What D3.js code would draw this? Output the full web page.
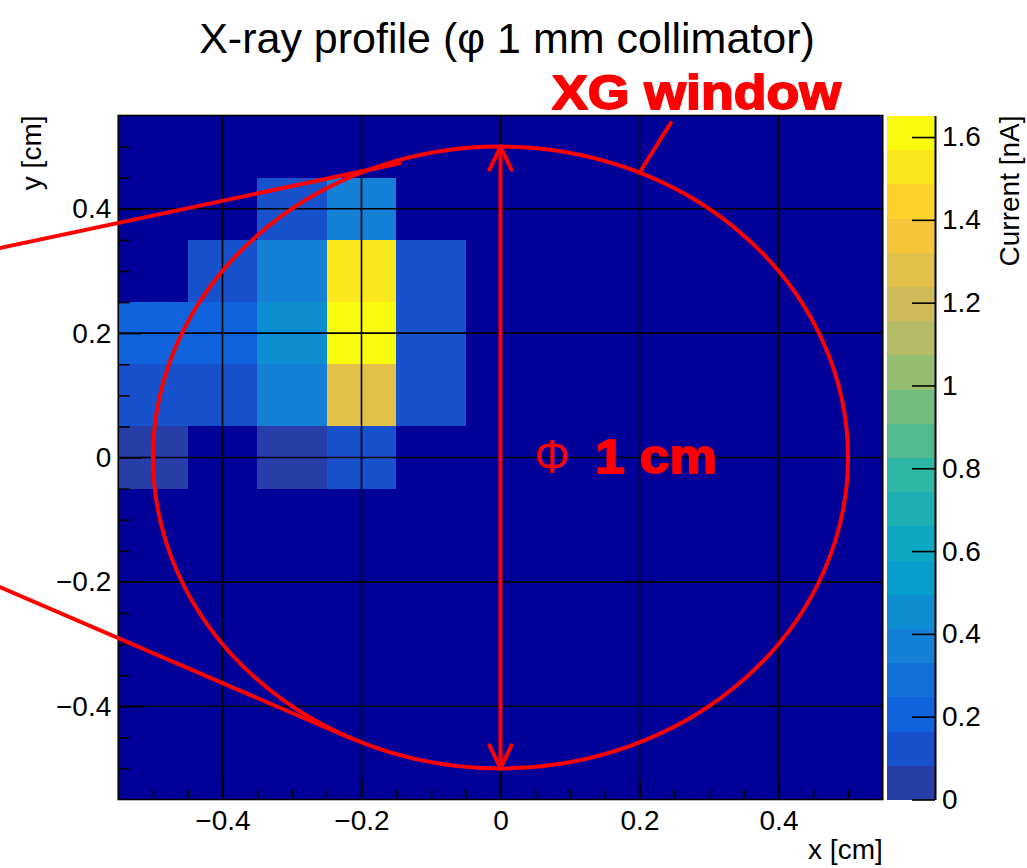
<!DOCTYPE html>
<html>
<head>
<meta charset="utf-8">
<script src="https://cdn.jsdelivr.net/npm/d3@7"></script>
<style>
  body { margin: 0; background: #ffffff; }
  svg { display: block; }
  text { font-family: "Liberation Sans", Arial, Helvetica, sans-serif; }
</style>
</head>
<body>
<svg id="chart" width="1027" height="868"></svg>
<script>
// ---- Data -------------------------------------------------------------
// Bin centres (cm); bins are 0.1 cm wide
const xBins = [-0.5, -0.4, -0.3, -0.2, -0.1];
const yRows = [0.4, 0.3, 0.2, 0.1, 0.0];
// Measured current (nA), one row per yRows entry, one column per xBins entry
const currentRows = [
  [0.00, 0.00, 0.12, 0.37, 0.00],
  [0.00, 0.12, 0.38, 1.53, 0.12],
  [0.21, 0.21, 0.46, 1.652, 0.12],
  [0.12, 0.12, 0.37, 1.29, 0.12],
  [0.04, 0.00, 0.04, 0.12, 0.00]
];
const binWidth = 0.1;

const axisTicks = [-0.4, -0.2, 0, 0.2, 0.4];
const xTickLabels = ["\u22120.4", "\u22120.2", "0", "0.2", "0.4"];
const yTickLabels = ["\u22120.4", "\u22120.2", "0", "0.2", "0.4"];
const minorTicks = [-0.5, -0.45, -0.35, -0.3, -0.25, -0.15, -0.1, -0.05,
                    0.05, 0.1, 0.15, 0.25, 0.3, 0.35, 0.45, 0.5];

const zTicks = [0, 0.2, 0.4, 0.6, 0.8, 1.0, 1.2, 1.4, 1.6];
const zTickLabels = ["0", "0.2", "0.4", "0.6", "0.8", "1", "1.2", "1.4", "1.6"];
const zMax = 1.652;
const nContours = 20;

// "Bird" palette stops
const birdStops = [0.0000, 0.1250, 0.2500, 0.3750, 0.5000, 0.6250, 0.7500, 0.8750, 1.0000];
const birdRed   = [0.2082, 0.0592, 0.0780, 0.0232, 0.1802, 0.5301, 0.8186, 0.9956, 0.9764];
const birdGreen = [0.1664, 0.3599, 0.5041, 0.6419, 0.7178, 0.7492, 0.7328, 0.7862, 0.9832];
const birdBlue  = [0.5293, 0.8684, 0.8385, 0.7914, 0.6425, 0.4662, 0.3499, 0.1968, 0.0539];

// Annotations (cm)
const windowRadius = 0.5;
const arrowEnds = [0.5, -0.5];
const pointerStart = [0.245, 0.538];
const pointerEndX = 0.2;
const leaderLines = [
  [[-0.73, 0.3346], [-0.145, 0.4733]],
  [[-0.73, -0.2036], [-0.2165, -0.4511]]
];
const windowLabelPos = [0.074, 0.5605];
const diameterLabelPos = [0.049, -0.025];
const diameterValuePos = [0.136, -0.025];

// ---- Layout ----------------------------------------------------------
const svg = d3.select("#chart");
const plot = { left: 118.25, right: 882.75, top: 115.5, bottom: 799.5 };
const bar = { left: 887, right: 935 };

const x = d3.scaleLinear().domain([-0.55, 0.55]).range([plot.left, plot.right]);
const y = d3.scaleLinear().domain([-0.55, 0.55]).range([plot.bottom, plot.top]);
const z = d3.scaleLinear().domain([0, zMax]).range([plot.bottom, plot.top]);

const birdColor = d3.scaleLinear()
  .domain(birdStops)
  .range(birdStops.map((s, i) => d3.rgb(birdRed[i] * 255, birdGreen[i] * 255, birdBlue[i] * 255)))
  .interpolate(d3.interpolateRgb);

function bandColor(k) {
  const idx = Math.floor((k + 0.99) * 255 / nContours);
  return birdColor(Math.min(idx, 254) / 254);
}
function valueBand(v) {
  return Math.min(nContours - 1, Math.floor(v / zMax * nContours));
}

// ---- Frame fill ------------------------------------------------------
svg.append("rect")
  .attr("x", plot.left).attr("y", plot.top)
  .attr("width", plot.right - plot.left).attr("height", plot.bottom - plot.top)
  .attr("fill", "#000099");

// ---- Cells -----------------------------------------------------------
const cells = [];
currentRows.forEach((row, r) => row.forEach((v, c) => {
  if (v > 0) cells.push({ xc: xBins[c], yc: yRows[r], v });
}));
svg.append("g").selectAll("rect").data(cells).join("rect")
  .attr("x", d => x(d.xc - binWidth / 2))
  .attr("y", d => y(d.yc + binWidth / 2))
  .attr("width", d => x(d.xc + binWidth / 2) - x(d.xc - binWidth / 2))
  .attr("height", d => y(d.yc - binWidth / 2) - y(d.yc + binWidth / 2))
  .attr("fill", d => bandColor(valueBand(d.v)))
  .attr("shape-rendering", "crispEdges");

// ---- Grid ------------------------------------------------------------
const grid = svg.append("g").attr("stroke", "#000").attr("stroke-width", 1.6);
grid.selectAll(".gx").data(axisTicks).join("line")
  .attr("x1", d => x(d)).attr("x2", d => x(d))
  .attr("y1", plot.top).attr("y2", plot.bottom);
grid.selectAll(".gy").data(axisTicks).join("line")
  .attr("y1", d => y(d)).attr("y2", d => y(d))
  .attr("x1", plot.left).attr("x2", plot.right);

// ---- Axes ------------------------------------------------------------
function styleAxis(g) {
  g.select(".domain").remove();
  g.selectAll(".tick line").attr("stroke", "#000").attr("stroke-width", 1.6);
  g.selectAll(".tick text").attr("fill", "#000").style("font-size", "28px")
    .style("font-family", '"Liberation Sans", Arial, sans-serif');
}

svg.append("g").attr("transform", `translate(0,${plot.bottom})`)
  .call(d3.axisBottom(x).tickValues(axisTicks).tickSizeInner(-20).tickSizeOuter(0)
    .tickPadding(11).tickFormat((d, i) => xTickLabels[i]))
  .call(styleAxis);
svg.append("g").attr("transform", `translate(0,${plot.bottom})`)
  .call(d3.axisBottom(x).tickValues(minorTicks).tickSizeInner(-10).tickSizeOuter(0).tickFormat(""))
  .call(styleAxis);

svg.append("g").attr("transform", `translate(${plot.left},0)`)
  .call(d3.axisLeft(y).tickValues(axisTicks).tickSizeInner(-23).tickSizeOuter(0)
    .tickPadding(7).tickFormat((d, i) => yTickLabels[i]))
  .call(styleAxis);
svg.append("g").attr("transform", `translate(${plot.left},0)`)
  .call(d3.axisLeft(y).tickValues(minorTicks).tickSizeInner(-11.5).tickSizeOuter(0).tickFormat(""))
  .call(styleAxis);

// Frame border
svg.append("rect")
  .attr("x", plot.left).attr("y", plot.top)
  .attr("width", plot.right - plot.left).attr("height", plot.bottom - plot.top)
  .attr("fill", "none").attr("stroke", "#000").attr("stroke-width", 1.6);

// ---- Colour bar ------------------------------------------------------
const dz = zMax / nContours;
svg.append("g").selectAll("rect").data(d3.range(nContours)).join("rect")
  .attr("x", bar.left).attr("width", bar.right - bar.left)
  .attr("y", k => z((k + 1) * dz))
  .attr("height", k => z(k * dz) - z((k + 1) * dz) + 0.5)
  .attr("fill", k => bandColor(k))
  .attr("shape-rendering", "crispEdges");

const zAxis = svg.append("g").attr("transform", `translate(${bar.right},0)`)
  .call(d3.axisRight(z).tickValues(zTicks).tickSizeInner(-23).tickSizeOuter(0)
    .tickPadding(7).tickFormat((d, i) => zTickLabels[i]));
zAxis.select(".domain").attr("stroke", "#000").attr("stroke-width", 2);
zAxis.selectAll(".tick line").attr("stroke", "#000").attr("stroke-width", 1.6);
zAxis.selectAll(".tick text").attr("fill", "#000").style("font-size", "28px")
  .style("font-family", '"Liberation Sans", Arial, sans-serif');

// ---- Titles ----------------------------------------------------------
svg.append("text")
  .attr("x", 507).attr("y", 53)
  .attr("text-anchor", "middle")
  .style("font-size", "43px")
  .text("X-ray profile (\u03c6 1 mm collimator)");

svg.append("text")
  .attr("x", plot.right).attr("y", 859)
  .attr("text-anchor", "end")
  .style("font-size", "28px")
  .text("x [cm]");

svg.append("text")
  .attr("transform", `translate(41,${plot.top}) rotate(-90)`)
  .attr("text-anchor", "end")
  .style("font-size", "28px")
  .text("y [cm]");

svg.append("text")
  .attr("transform", `translate(1019,${plot.top}) rotate(-90)`)
  .attr("text-anchor", "end")
  .style("font-size", "28px")
  .text("Current [nA]");

// ---- Annotations -----------------------------------------------------
const red = "#ff0000";
const ann = svg.append("g").attr("fill", "none").attr("stroke", red)
  .attr("stroke-width", 4).attr("stroke-linecap", "round").attr("stroke-linejoin", "round");

ann.append("ellipse")
  .attr("cx", x(0)).attr("cy", y(0))
  .attr("rx", x(windowRadius) - x(0))
  .attr("ry", y(0) - y(windowRadius));

ann.selectAll(".leader").data(leaderLines).join("line")
  .attr("x1", d => x(d[0][0])).attr("y1", d => y(d[0][1]))
  .attr("x2", d => x(d[1][0])).attr("y2", d => y(d[1][1]));

// Double-headed diameter arrow
ann.append("line")
  .attr("x1", x(0)).attr("x2", x(0))
  .attr("y1", y(arrowEnds[0])).attr("y2", y(arrowEnds[1]));
const headW = 11, headL = 23;
arrowEnds.forEach(v => {
  const tipY = y(v);
  const dir = v > 0 ? 1 : -1;
  ann.append("path")
    .attr("d", d3.line()([[x(0) - headW, tipY + dir * headL], [x(0), tipY], [x(0) + headW, tipY + dir * headL]]));
});

// Pointer from label to window edge
ann.append("line")
  .attr("x1", x(pointerStart[0])).attr("y1", y(pointerStart[1]))
  .attr("x2", x(pointerEndX))
  .attr("y2", y(Math.sqrt(windowRadius * windowRadius - pointerEndX * pointerEndX)));

// Labels in heavy red type
svg.append("text")
  .attr("x", x(windowLabelPos[0])).attr("y", y(windowLabelPos[1]))
  .attr("fill", red).attr("stroke", red).attr("stroke-width", 1.8).attr("stroke-linejoin", "round")
  .style("font-size", "49px").style("font-weight", "bold")
  .attr("textLength", 289).attr("lengthAdjust", "spacingAndGlyphs")
  .text("XG window");

svg.append("text")
  .attr("x", x(diameterLabelPos[0])).attr("y", y(diameterLabelPos[1]))
  .attr("fill", red).style("font-size", "48px")
  .attr("textLength", 35).attr("lengthAdjust", "spacingAndGlyphs")
  .text("\u03a6");

svg.append("text")
  .attr("x", x(diameterValuePos[0])).attr("y", y(diameterValuePos[1]))
  .attr("fill", red).attr("stroke", red).attr("stroke-width", 1.8).attr("stroke-linejoin", "round")
  .style("font-size", "49px").style("font-weight", "bold")
  .attr("textLength", 122).attr("lengthAdjust", "spacingAndGlyphs")
  .text("1 cm");
</script>
</body>
</html>
